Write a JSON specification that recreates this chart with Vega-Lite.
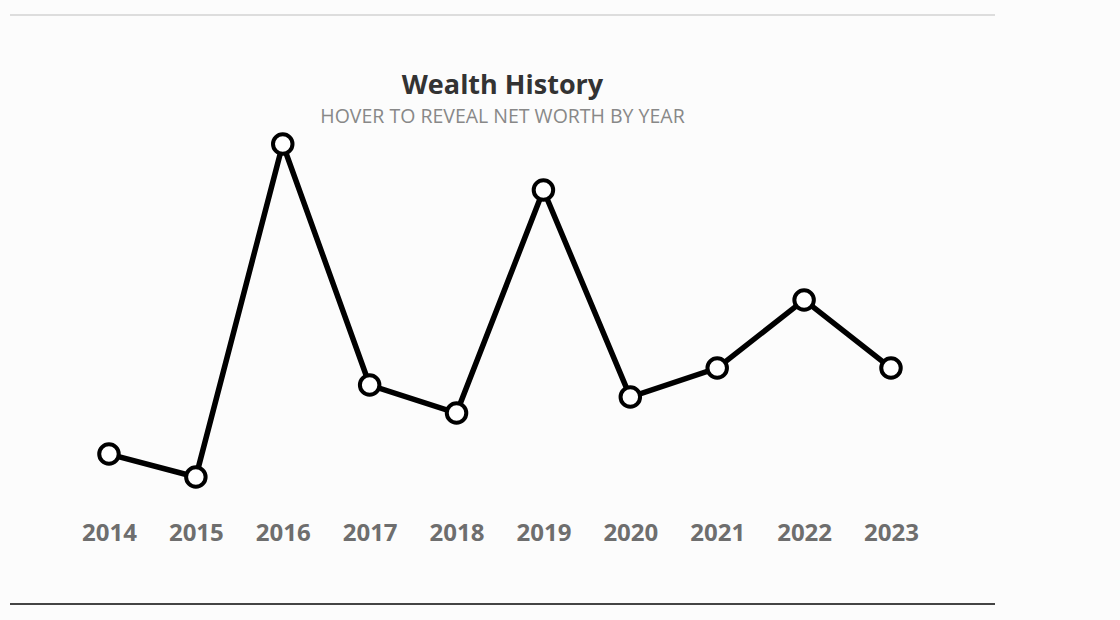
{
  "$schema": "https://vega.github.io/schema/vega-lite/v6.json",
  "autosize": {"type": "none"},
  "padding": {"left": 10, "top": 15, "right": 125, "bottom": 16},
  "width": 985,
  "height": 589,
  "background": "#fcfcfc",
  "title": {
    "text": "Wealth History",
    "subtitle": "HOVER TO REVEAL NET WORTH BY YEAR",
    "anchor": "middle",
    "offset": -113,
    "font": "Open Sans",
    "fontSize": 27,
    "fontWeight": "bold",
    "color": "#333333",
    "subtitleFont": "Open Sans",
    "subtitleFontSize": 19.5,
    "subtitleColor": "#888888",
    "subtitlePadding": 8
  },
  "config": {"view": {"stroke": null}},
  "data": {
    "values": [
      {"year": 2014, "net_worth": 47.3},
      {"year": 2015, "net_worth": 27.8},
      {"year": 2016, "net_worth": 310.5},
      {"year": 2017, "net_worth": 105.9},
      {"year": 2018, "net_worth": 82.1},
      {"year": 2019, "net_worth": 271.4},
      {"year": 2020, "net_worth": 95.7},
      {"year": 2021, "net_worth": 120.3},
      {"year": 2022, "net_worth": 178.1},
      {"year": 2023, "net_worth": 120.3}
    ]
  },
  "encoding": {
    "x": {
      "field": "year",
      "type": "quantitative",
      "scale": {"domain": [2012.861, 2024.197], "nice": false, "zero": false},
      "axis": {
        "title": null,
        "values": [2014, 2015, 2016, 2017, 2018, 2019, 2020, 2021, 2022, 2023],
        "format": "d",
        "domain": false,
        "ticks": false,
        "grid": false,
        "labelPadding": -83,
        "labelFont": "Open Sans",
        "labelFontSize": 24,
        "labelFontWeight": "bold",
        "labelColor": "#6e6e6e"
      }
    },
    "y": {
      "field": "net_worth",
      "type": "quantitative",
      "scale": {"domain": [-80, 420], "nice": false, "zero": false},
      "axis": null
    }
  },
  "layer": [
    {
      "mark": {"type": "rule", "color": "#dddddd", "strokeWidth": 1.5},
      "encoding": {"x": null, "y": {"datum": 420, "type": "quantitative"}}
    },
    {
      "mark": {"type": "rule", "color": "#444444", "strokeWidth": 2},
      "encoding": {"x": null, "y": {"datum": -80, "type": "quantitative"}}
    },
    {
      "mark": {"type": "line", "color": "#000000", "strokeWidth": 5.5}
    },
    {
      "mark": {"type": "point", "filled": false, "fill": "#ffffff", "fillOpacity": 1, "stroke": "#000000", "strokeWidth": 4, "size": 380, "opacity": 1},
      "encoding": {
        "tooltip": [
          {"field": "year", "type": "quantitative", "format": "d", "title": "Year"},
          {"field": "net_worth", "type": "quantitative", "title": "Net worth"}
        ]
      }
    }
  ]
}
